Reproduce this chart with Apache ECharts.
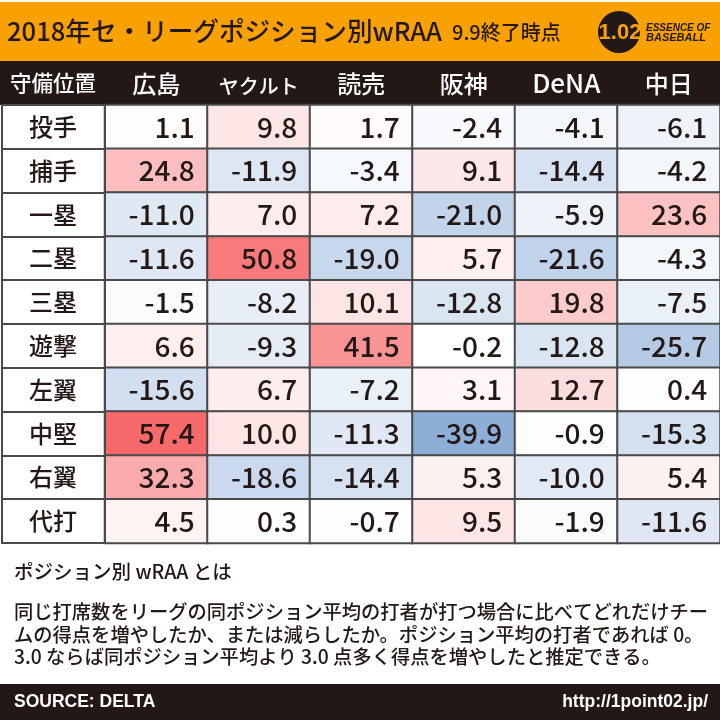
<!DOCTYPE html>
<html>
<head>
<meta charset="utf-8">
<style>
  html, body { margin: 0; padding: 0; background: #fff; }
  #chart { width: 720px; height: 720px; }
</style>
<script src="https://cdn.jsdelivr.net/npm/echarts@6/dist/echarts.min.js"></script>
</head>
<body>
<div id="chart"></div>
<script>
const positions = ["投手", "捕手", "一塁", "二塁", "三塁", "遊撃", "左翼", "中堅", "右翼", "代打"];
const teams = ["広島", "ヤクルト", "読売", "阪神", "DeNA", "中日"];

const hiroshima = [1.1, 24.8, -11.0, -11.6, -1.5, 6.6, -15.6, 57.4, 32.3, 4.5];
const yakult = [9.8, -11.9, 7.0, 50.8, -8.2, -9.3, 6.7, 10.0, -18.6, 0.3];
const yomiuri = [1.7, -3.4, 7.2, -19.0, 10.1, 41.5, -7.2, -11.3, -14.4, -0.7];
const hanshin = [-2.4, 9.1, -21.0, 5.7, -12.8, -0.2, 3.1, -39.9, 5.3, 9.5];
const dena = [-4.1, -14.4, -5.9, -21.6, 19.8, -12.8, 12.7, -0.9, -10.0, -1.9];
const chunichi = [-6.1, -4.2, 23.6, -4.3, -7.5, -25.7, 0.4, -15.3, 5.4, -11.6];

const columns = [hiroshima, yakult, yomiuri, hanshin, dena, chunichi];
const cells = [];
columns.forEach((col, x) => col.forEach((v, y) => cells.push([x, y, v])));

const FONT = '"Noto Sans CJK JP", "Noto Sans", sans-serif';
const LATIN = '"Liberation Sans", sans-serif';
const INK = "#231815";
const LINE = "#4a4a4a";

const text = (x, y, str, fontSize, extra) => ({
  type: "text",
  x,
  y,
  z: 10,
  style: Object.assign(
    { text: str, fontFamily: FONT, fontSize, fill: INK, fontWeight: 500, textVerticalAlign: "middle" },
    extra
  ),
});

// ヤクルト and DeNA are set at a different size in the header
const headerLabel = (name) => {
  if (name === "ヤクルト") return "{small|" + name + "}";
  if (name === "DeNA") return "{wide|" + name + "}";
  return name;
};

const chart = echarts.init(document.getElementById("chart"));
chart.setOption({
  animation: false,
  backgroundColor: "#fff",
  grid: { left: 105, right: 0, top: 105, bottom: 177 },
  xAxis: {
    type: "category",
    position: "top",
    data: teams,
    axisLine: { show: false },
    axisTick: { show: false },
    axisLabel: {
      interval: 0,
      margin: 9,
      color: "#fff",
      fontFamily: FONT,
      fontWeight: 500,
      fontSize: 24,
      formatter: headerLabel,
      rich: {
        small: { fontFamily: FONT, fontWeight: 500, fontSize: 20, color: "#fff" },
        wide: { fontFamily: FONT, fontWeight: 500, fontSize: 26, color: "#fff" },
      },
    },
  },
  yAxis: {
    type: "category",
    inverse: true,
    data: positions,
    axisLine: { show: false },
    axisTick: { show: true, length: 103, lineStyle: { color: LINE, width: 2 } },
    axisLabel: {
      interval: 0,
      margin: 52,
      align: "center",
      color: INK,
      fontFamily: FONT,
      fontWeight: 500,
      fontSize: 24,
    },
  },
  visualMap: {
    show: false,
    type: "continuous",
    dimension: 2,
    min: -57.4,
    max: 57.4,
    inRange: { color: ["#5A8AC6", "#FFFFFF", "#F8696B"] },
  },
  series: [
    {
      type: "heatmap",
      data: cells,
      itemStyle: { borderColor: LINE, borderWidth: 2 },
      emphasis: { disabled: true },
      label: {
        show: true,
        position: "insideRight",
        distance: 14,
        color: INK,
        fontFamily: FONT,
        fontWeight: 500,
        fontSize: 28,
        formatter: (p) => p.value[2].toFixed(1),
      },
    },
  ],
  graphic: [
    { type: "rect", z: -1, shape: { x: 0, y: 2, width: 720, height: 59 }, style: { fill: "#F8A100" } },
    { type: "rect", z: -1, shape: { x: 0, y: 61, width: 720, height: 44 }, style: { fill: INK } },
    { type: "rect", z: 4, shape: { x: 2, y: 105, width: 103, height: 438 }, style: { fill: "none", stroke: LINE, lineWidth: 2 } },
    text(7, 31, "2018年セ・リーグポジション別wRAA", 25.6),
    text(452, 32, "9.9終了時点", 20),
    text(53, 83, "守備位置", 21.5, { fill: "#fff", textAlign: "center" }),
    { type: "circle", z: 9, shape: { cx: 619, cy: 32, r: 21 }, style: { fill: INK } },
    text(620, 33, "1.02", 22, { fill: "#F8A100", textAlign: "center", fontWeight: "bold", fontFamily: LATIN }),
    text(646, 28, "ESSENCE OF", 10, { fontWeight: "bold", fontStyle: "italic", fontFamily: LATIN }),
    text(646, 38, "BASEBALL", 11, { fontWeight: "bold", fontStyle: "italic", fontFamily: LATIN }),
    text(14, 572, "ポジション別 wRAA とは", 19.5),
    text(14, 612, "同じ打席数をリーグの同ポジション平均の打者が打つ場合に比べてどれだけチー", 19.3),
    text(14, 635, "ムの得点を増やしたか、または減らしたか。ポジション平均の打者であれば 0。", 19.3),
    text(14, 657, "3.0 ならば同ポジション平均より 3.0 点多く得点を増やしたと推定できる。", 19.3),
    { type: "rect", z: -1, shape: { x: 0, y: 684, width: 720, height: 36 }, style: { fill: INK } },
    text(14, 702, "SOURCE: DELTA", 17.5, { fill: "#fff", fontWeight: "bold", fontFamily: LATIN }),
    text(708, 702, "http://1point02.jp/", 17.5, { fill: "#fff", textAlign: "right", fontWeight: "bold", fontFamily: LATIN }),
  ],
});
</script>
</body>
</html>
